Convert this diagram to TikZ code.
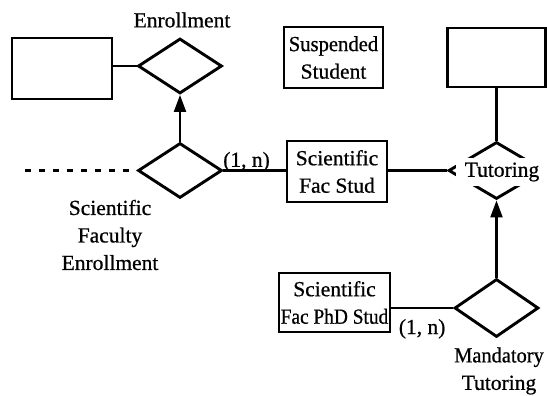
\documentclass[tikz,border=0pt]{standalone}
\usepackage{fontspec}
\setmainfont{Liberation Serif}[FakeBold=0.7]
\usepackage{graphicx}
\usetikzlibrary{shapes.geometric,arrows.meta}

\begin{document}
\begin{tikzpicture}[x=1pt,y=-1pt,
  every node/.style={font=\fontsize{21.5}{27.5}\selectfont, inner sep=0pt, align=center},
  entity/.style={draw, line width=2.4pt, rectangle},
  relship/.style={draw, line width=2.9pt, shape=diamond, line join=miter},
  conn/.style={line width=2.2pt},
  isa/.style={line width=2.2pt, -{Triangle[length=17pt,width=12pt]}},
  partial/.style={line width=2.2pt, dash pattern=on 6pt off 8pt}
]
\useasboundingbox (0,0) rectangle (547,396);

% entities
\node[entity, minimum width=100pt, minimum height=61pt] (ent1) at (62,68.5) {};
\node[entity, minimum width=99pt, minimum height=61pt] (susp) at (333.5,57.5)
  {\scalebox{0.96}[1]{Suspended}\\Student};
\node[entity, minimum width=98pt, minimum height=59pt] (ent2) at (496.5,57.5) {};
\node[entity, minimum width=100pt, minimum height=61pt] (sfs) at (337,171.5) {Scientific\\Fac Stud};
\node[entity, minimum width=111pt, minimum height=59pt] (sfps) at (334.5,302.5)
  {Scientific\\\scalebox{0.9}[1]{Fac PhD Stud}};

% relationships
\node[relship, minimum width=84pt, minimum height=55pt] (enr) at (180,66) {};
\node[relship, minimum width=84pt, minimum height=55pt] (sfe) at (180,170.5) {};
\node[relship, minimum width=96pt, minimum height=57pt] (tutd) at (496.5,170.5) {};
\node[relship, minimum width=84pt, minimum height=58pt] (mt) at (496.5,308) {};

% relationship names
\node (enrl) at (182,20) {Enrollment};
\node (sfel) at (110,235) {Scientific\\Faculty\\Enrollment};
\node (mtl) at (499,371) {\scalebox{0.95}[1]{Mandatory}\\Tutoring};

% connectors
\coordinate (dotend) at (25,170.5);
\draw[partial] (dotend) -- (sfe.west);
\draw[conn] (ent1.east |- enr.west) -- (enr.west);
\draw[isa] (sfe.north) -- (enr.south);
\draw[conn] (sfe.east) -- (sfe.east -| sfs.west)
  node[pos=0.37, above=-2pt] (c1) {(1, n)};
\draw[conn] (sfs.east |- tutd.west) -- (tutd.west);
\draw[conn] (ent2.south) -- (tutd.north);
\draw[isa] (mt.north) -- (tutd.south);
\draw[conn] (sfps.east |- mt.west) -- (mt.west)
  node[pos=0.5, below=10pt] (c2) {(1, n)};

% label laid over the Tutoring diamond
\node[fill=white, minimum width=92pt, minimum height=28pt] (tutl) at (502,172) {Tutoring};
\end{tikzpicture}
\end{document}
